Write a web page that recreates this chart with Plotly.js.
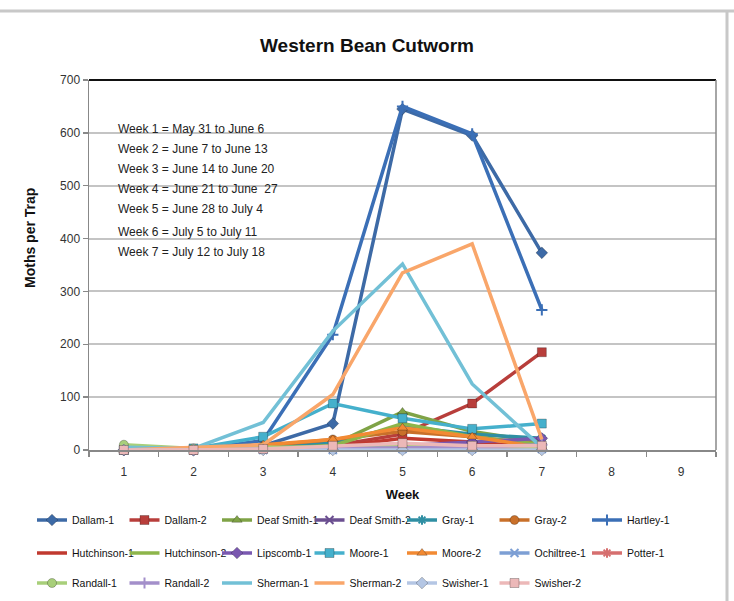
<!DOCTYPE html>
<html>
<head>
<meta charset="utf-8">
<script src="https://cdn.plot.ly/plotly-3.0.1.min.js"></script>
<style>html,body{margin:0;padding:0;background:#fff;}#chart{width:734px;height:601px;}</style>
</head>
<body>
<div id="chart"></div>
<script>
var weeks = ['1','2','3','4','5','6','7'];
var weekCategories = ['1','2','3','4','5','6','7','8','9'];

var seriesNames = ['Dallam-1','Dallam-2','Deaf Smith-1','Deaf Smith-2','Gray-1','Gray-2','Hartley-1',
  'Hutchinson-1','Hutchinson-2','Lipscomb-1','Moore-1','Moore-2','Ochiltree-1','Potter-1',
  'Randall-1','Randall-2','Sherman-1','Sherman-2','Swisher-1','Swisher-2'];

var dallam1      = [0, 0, 8, 50, 645, 595, 373];
var dallam2      = [0, 0, 5, 8, 30, 88, 185];
var deafSmith1   = [2, 2, 5, 10, 72, 35, 15];
var deafSmith2   = [0, 0, 2, 3, 5, 5, 5];
var gray1        = [0, 2, 8, 15, 45, 30, 22];
var gray2        = [0, 2, 8, 20, 35, 25, 10];
var hartley1     = [0, 0, 18, 218, 650, 598, 265];
var hutchinson1  = [0, 0, 3, 5, 22, 15, 5];
var hutchinson2  = [0, 0, 3, 8, 50, 25, 10];
var lipscomb1    = [0, 0, 2, 5, 8, 15, 22];
var moore1       = [0, 3, 25, 88, 60, 40, 50];
var moore2       = [0, 2, 10, 20, 42, 25, 5];
var ochiltree1   = [0, 0, 0, 0, 2, 2, 2];
var potter1      = [0, 0, 2, 3, 5, 5, 3];
var randall1     = [10, 3, 5, 5, 10, 8, 5];
var randall2     = [0, 0, 2, 3, 5, 5, 10];
var sherman1     = [5, 3, 52, 225, 352, 125, 5];
var sherman2     = [0, 5, 10, 105, 335, 390, 20];
var swisher1     = [0, 0, 0, 0, 0, 0, 0];
var swisher2     = [0, 0, 2, 8, 13, 8, 8];

var weekNotes = [
  'Week 1 = May 31 to June 6',
  'Week 2 = June 7 to June 13',
  'Week 3 = June 14 to June 20',
  'Week 4 = June 21 to June  27',
  'Week 5 = June 28 to July 4',
  'Week 6 = July 5 to July 11',
  'Week 7 = July 12 to July 18'
];

var allValues = [dallam1, dallam2, deafSmith1, deafSmith2, gray1, gray2, hartley1,
  hutchinson1, hutchinson2, lipscomb1, moore1, moore2, ochiltree1, potter1,
  randall1, randall2, sherman1, sherman2, swisher1, swisher2];

var colors = ['#3d6aa6','#b83e3b','#7fa346','#6b4f90','#2f8fa3','#c9702a','#3b6fb6',
  '#c0392f','#8db54a','#7a58b0','#45b0cc','#f28a33','#7d9fd4','#d66f6f',
  '#a8cf7a','#a38fca','#72c0d6','#f9a66a','#b4c6e4','#ecb8b8'];
var symbols = ['diamond','square','triangle-up','x-thin-open','asterisk-open','circle','cross-thin-open',
  'line-ew-open','line-ew-open','diamond','square','triangle-up','x-thin-open','asterisk-open',
  'circle','cross-thin-open','line-ew-open','line-ew-open','diamond','square'];
var showMarker = [true,true,true,true,true,true,true,false,false,true,true,true,true,true,true,true,false,false,true,true];

var FONT = 'Liberation Sans, Arial, sans-serif';

var traces = allValues.map(function(vals, i) {
  var row = Math.floor(i / 7);
  var thin = symbols[i].indexOf('open') >= 0;
  return {
    type: 'scatter',
    mode: showMarker[i] ? 'lines+markers' : 'lines',
    name: seriesNames[i],
    x: weeks,
    y: vals,
    legend: row === 0 ? 'legend' : (row === 1 ? 'legend2' : 'legend3'),
    line: {color: colors[i], width: 3.5},
    marker: {symbol: symbols[i], size: thin ? 8 : 9, color: colors[i],
             line: {color: thin ? colors[i] : 'rgba(0,0,0,0.25)', width: thin ? 2 : 1}},
    cliponaxis: false
  };
});

var L = 89, R = 18, T = 80, B = 151;
var W = 734, H = 601;
var pw = W - L - R, ph = H - T - B;
function px2x(p) { return (p - L) / pw; }
function px2y(p) { return (H - B - p) / ph; }

var noteY = [129, 149, 169, 189, 209, 232, 252];
var annotations = weekNotes.map(function(t, i) {
  return {text: t, xref: 'paper', yref: 'paper', x: px2x(116), y: px2y(noteY[i]),
    xanchor: 'left', yanchor: 'middle', showarrow: false,
    font: {family: FONT, size: 12, color: '#222'}};
});
annotations.push({text: '<b>Moths per Trap</b>', xref: 'paper', yref: 'paper', x: px2x(30), y: px2y(238),
  xanchor: 'center', yanchor: 'middle', textangle: -90, showarrow: false,
  font: {family: FONT, size: 14, color: '#111'}});

var legendFont = {family: FONT, size: 10.5, color: '#111'};
function mkLegend(rowPx) {
  return {orientation: 'h', x: px2x(32), xanchor: 'left', y: px2y(rowPx), yanchor: 'middle',
    entrywidth: 47.5, entrywidthmode: 'pixels', font: legendFont, bgcolor: 'rgba(0,0,0,0)',
    itemwidth: 30, traceorder: 'normal'};
}

var layout = {
  width: W, height: H,
  margin: {l: L, r: R, t: T, b: B, pad: 0, autoexpand: false},
  paper_bgcolor: '#ffffff', plot_bgcolor: '#ffffff',
  title: {text: '<b>Western Bean Cutworm</b>', x: 0.5, xref: 'container', xanchor: 'center', y: 1 - 45 / H, yanchor: 'middle',
    font: {family: FONT, size: 19, color: '#111'}},
  showlegend: true,
  legend: mkLegend(520),
  legend2: mkLegend(553),
  legend3: mkLegend(583),
  xaxis: {
    type: 'category', categoryorder: 'array', categoryarray: weekCategories,
    range: [-0.5, 8.5], tickson: 'boundaries', ticks: 'outside', ticklen: 5, tickcolor: '#888', tickwidth: 1.5,
    showline: true, linecolor: '#888', linewidth: 1.5, showgrid: false, zeroline: false,
    tickfont: {family: FONT, size: 12, color: '#333'},
    ticklabelstandoff: 10,
    title: {text: '<b>Week</b>', standoff: 12, font: {family: FONT, size: 13, color: '#111'}}
  },
  yaxis: {
    range: [0, 700], dtick: 100, tick0: 0, ticks: 'outside', ticklen: 5, tickcolor: '#888', tickwidth: 1.5,
    showline: true, linecolor: '#888', linewidth: 1.5, showgrid: true, gridcolor: '#c4c4c4', gridwidth: 2,
    zeroline: false,
    tickfont: {family: FONT, size: 12, color: '#333'}
  },
  annotations: annotations,
  shapes: [
    {type: 'rect', xref: 'paper', yref: 'paper', x0: px2x(107), x1: px2x(296), y0: px2y(265), y1: px2y(118),
      fillcolor: '#ffffff', line: {width: 0}, layer: 'between'},
    {type: 'line', xref: 'paper', yref: 'paper', x0: 0, x1: 1, y0: 1, y1: 1, line: {color: '#111', width: 2}},
    {type: 'line', xref: 'paper', yref: 'paper', x0: 1, x1: 1, y0: 0, y1: 1, line: {color: '#888', width: 1.5}},
    {type: 'line', xref: 'paper', yref: 'paper', x0: px2x(0), x1: px2x(734), y0: px2y(11), y1: px2y(11), line: {color: '#c8c8c8', width: 3}},
    {type: 'line', xref: 'paper', yref: 'paper', x0: px2x(727), x1: px2x(727), y0: px2y(11), y1: px2y(601), line: {color: '#c8c8c8', width: 3}}
  ]
};

Plotly.newPlot('chart', traces, layout, {staticPlot: true, displayModeBar: false});
</script>
</body>
</html>
